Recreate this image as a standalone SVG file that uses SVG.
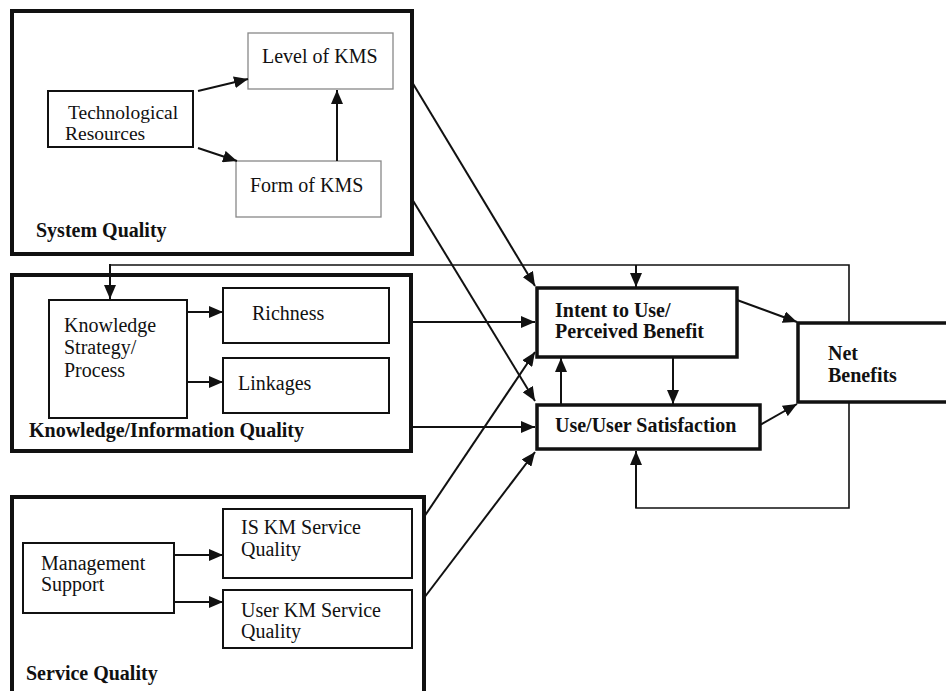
<svg xmlns="http://www.w3.org/2000/svg" width="946" height="691" viewBox="0 0 946 691">
<defs>
<marker id="ah" markerUnits="userSpaceOnUse" markerWidth="14" markerHeight="12" refX="14" refY="6" orient="auto">
<path d="M0,0 L14,6 L0,12 z" fill="#111"/>
</marker>
<style>
.t{font-family:"Liberation Serif","Times New Roman",serif;font-size:20px;fill:#111}
.b{font-family:"Liberation Serif","Times New Roman",serif;font-size:20px;font-weight:bold;fill:#111}
.outer{fill:none;stroke:#111;stroke-width:4}
.main{fill:#fff;stroke:#111;stroke-width:3.5}
.box{fill:#fff;stroke:#111;stroke-width:2}
.gray{fill:#fff;stroke:#888;stroke-width:1.3}
.c{fill:none;stroke:#111;stroke-width:2;marker-end:url(#ah)}
.f{fill:none;stroke:#111;stroke-width:1.6}
</style>
</defs>
<rect width="946" height="691" fill="#fff"/>

<g id="system-quality">
<rect class="outer" x="12" y="11" width="400" height="243"/>
<text class="b" x="36" y="237">System Quality</text>
</g>
<g id="level-kms">
<rect class="gray" x="248" y="33" width="145" height="56"/>
<text class="t" x="262" y="63">Level of KMS</text>
</g>
<g id="tech-resources">
<rect class="box" x="48" y="91" width="145" height="56"/>
<text class="t" x="68" y="119" style="font-size:19.5px">Technological</text>
<text class="t" x="65" y="140" style="font-size:19.5px">Resources</text>
</g>
<g id="form-kms">
<rect class="gray" x="236" y="161" width="145" height="56"/>
<text class="t" x="250" y="192">Form of KMS</text>
</g>

<g id="knowledge-quality">
<rect class="outer" x="12" y="275" width="399" height="176"/>
<text class="b" x="29" y="437">Knowledge/Information Quality</text>
</g>
<g id="knowledge-strategy">
<rect class="box" x="49" y="300" width="138" height="118"/>
<text class="t" x="64" y="332">Knowledge</text>
<text class="t" x="64" y="354">Strategy/</text>
<text class="t" x="64" y="377">Process</text>
</g>
<g id="richness">
<rect class="box" x="223" y="288" width="166" height="55"/>
<text class="t" x="252" y="320">Richness</text>
</g>
<g id="linkages">
<rect class="box" x="223" y="358" width="166" height="55"/>
<text class="t" x="238" y="390">Linkages</text>
</g>

<g id="service-quality">
<rect class="outer" x="12" y="497" width="412" height="210"/>
<text class="b" x="26" y="680">Service Quality</text>
</g>
<g id="management-support">
<rect class="box" x="23" y="543" width="151" height="70"/>
<text class="t" x="41" y="570">Management</text>
<text class="t" x="41" y="591">Support</text>
</g>
<g id="is-km-service">
<rect class="box" x="223" y="509" width="189" height="69"/>
<text class="t" x="241" y="534">IS KM Service</text>
<text class="t" x="241" y="556">Quality</text>
</g>
<g id="user-km-service">
<rect class="box" x="223" y="590" width="189" height="58"/>
<text class="t" x="241" y="617">User KM Service</text>
<text class="t" x="241" y="638">Quality</text>
</g>

<g id="intent">
<rect class="main" x="537" y="288" width="200" height="69"/>
<text class="b" x="555" y="317">Intent to Use/</text>
<text class="b" x="555" y="338">Perceived Benefit</text>
</g>
<g id="use-satisfaction">
<rect class="main" x="537" y="405" width="223" height="44"/>
<text class="b" x="555" y="432">Use/User Satisfaction</text>
</g>
<g id="net-benefits">
<rect class="main" x="798" y="323" width="160" height="79"/>
<text class="b" x="828" y="360">Net</text>
<text class="b" x="828" y="382">Benefits</text>
</g>

<g id="connectors">
<line class="c" x1="198" y1="91" x2="248" y2="79"/>
<line class="c" x1="198" y1="148" x2="237" y2="161"/>
<line class="c" x1="337" y1="161" x2="337" y2="90"/>
<line class="c" x1="187" y1="312" x2="223" y2="312"/>
<line class="c" x1="187" y1="382" x2="223" y2="382"/>
<line class="c" x1="174" y1="555" x2="223" y2="555"/>
<line class="c" x1="174" y1="602" x2="223" y2="602"/>

<line class="c" x1="412" y1="82" x2="535" y2="286"/>
<line class="c" x1="412" y1="199" x2="535" y2="401"/>
<line class="c" x1="411" y1="322" x2="535" y2="322"/>
<line class="c" x1="411" y1="427" x2="535" y2="427"/>
<line class="c" x1="424" y1="517" x2="535" y2="352"/>
<line class="c" x1="424" y1="598" x2="535" y2="452"/>

<line class="c" x1="561" y1="405" x2="561" y2="358"/>
<line class="c" x1="673" y1="357" x2="673" y2="404"/>
<line class="c" x1="737" y1="300" x2="797" y2="322"/>
<line class="c" x1="760" y1="425" x2="797" y2="404"/>

<polyline class="f" points="110,265 849,265 849,323"/>
<line class="c" x1="110" y1="264" x2="110" y2="299"/>
<line class="c" x1="636" y1="265" x2="636" y2="287"/>
<polyline class="f" points="849,402 849,508 636,508 636,470"/>
<line class="c" x1="636" y1="508" x2="636" y2="451"/>
</g>
</svg>
